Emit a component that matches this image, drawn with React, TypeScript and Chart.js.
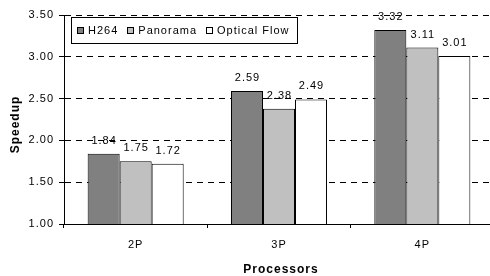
import React, { useEffect, useRef } from 'react';
import { Chart, registerables } from 'chart.js';

Chart.register(...registerables);

const categories = ['2P', '3P', '4P'];
const seriesNames = ['H264', 'Panorama', 'Optical Flow'];
const h264 = [1.84, 2.59, 3.32];
const panorama = [1.75, 2.38, 3.11];
const opticalFlow = [1.72, 2.49, 3.01];
const yTicks = [1.0, 1.5, 2.0, 2.5, 3.0, 3.5];
const seriesColors = ['#808080', '#c0c0c0', '#ffffff'];
const xTitle = 'Processors';
const yTitle = 'Speedup';

const FAMILY = "'Liberation Sans', Arial, Helvetica, sans-serif";

const decorPlugin = {
  id: 'decor',
  beforeDraw(chart: any) {
    chart.ctx.letterSpacing = '1px';
  },
  afterDatasetsDraw(chart: any) {
    const ctx = chart.ctx as CanvasRenderingContext2D;
    ctx.save();
    (ctx as any).letterSpacing = '1px';
    ctx.font = `11px ${FAMILY}`;
    ctx.fillStyle = '#000';
    ctx.textAlign = 'center';
    ctx.textBaseline = 'alphabetic';
    chart.data.datasets.forEach((ds: any, i: number) => {
      const meta = chart.getDatasetMeta(i);
      meta.data.forEach((bar: any, j: number) => {
        const v = ds.data[j] as number;
        ctx.fillText(v.toFixed(2), bar.x + 0.5, bar.y - 10);
      });
    });
    ctx.restore();
  },
  afterDraw(chart: any) {
    const ctx = chart.ctx as CanvasRenderingContext2D;
    const area = chart.chartArea;
    ctx.save();
    (ctx as any).letterSpacing = '1px';
    // Legend
    ctx.font = `11px ${FAMILY}`;
    const boxLeft = area.left + 7;
    const boxTop = area.top + 2;
    const boxH = 26;
    let x = boxLeft + 6;
    const items: { mx: number; tx: number; label: string; color: string }[] = [];
    chart.data.datasets.forEach((ds: any) => {
      const mx = x;
      const tx = mx + 11;
      const w = ctx.measureText(ds.label).width;
      items.push({ mx, tx, label: ds.label, color: ds.backgroundColor });
      x = tx + w + 9;
    });
    const boxRight = x - 2;
    ctx.fillStyle = '#fff';
    ctx.fillRect(boxLeft, boxTop, boxRight - boxLeft, boxH);
    ctx.strokeStyle = '#000';
    ctx.lineWidth = 1;
    ctx.strokeRect(Math.round(boxLeft) + 0.5, Math.round(boxTop) + 0.5, Math.round(boxRight - boxLeft), boxH);
    items.forEach((it) => {
      const my = boxTop + 10;
      ctx.fillStyle = it.color;
      ctx.fillRect(Math.round(it.mx) + 0.5, my + 0.5, 6, 6);
      ctx.strokeStyle = '#000';
      ctx.strokeRect(Math.round(it.mx) + 0.5, my + 0.5, 6, 6);
      ctx.fillStyle = '#000';
      ctx.textAlign = 'left';
      ctx.textBaseline = 'alphabetic';
      ctx.fillText(it.label, it.tx, boxTop + 17);
    });
    // Axis titles
    ctx.font = `bold 12px ${FAMILY}`;
    ctx.fillStyle = '#000';
    ctx.textAlign = 'center';
    ctx.textBaseline = 'alphabetic';
    ctx.fillText(xTitle, (area.left + area.right) / 2 + 2, 272.5);
    ctx.translate(18.5, (area.top + area.bottom) / 2 + 5);
    ctx.rotate(-Math.PI / 2);
    ctx.fillText(yTitle, 0, 0);
    ctx.restore();
  },
};

export default function App() {
  const ref = useRef<HTMLCanvasElement>(null);
  useEffect(() => {
    const series = [h264, panorama, opticalFlow];
    const chart = new Chart(ref.current!, {
      type: 'bar',
      data: {
        labels: categories,
        datasets: series.map((data, i) => ({
          label: seriesNames[i],
          data,
          backgroundColor: seriesColors[i],
          borderColor: '#000',
          borderWidth: 1,
          categoryPercentage: 0.67,
          barPercentage: 1,
        })),
      },
      options: {
        responsive: false,
        animation: false,
        layout: { padding: { top: 15, right: 2, left: 0, bottom: 0 } },
        plugins: {
          legend: { display: false },
          tooltip: { enabled: false },
        },
        scales: {
          x: {
            offset: true,
            grid: {
              display: true,
              drawOnChartArea: false,
              drawTicks: true,
              tickLength: 4,
              color: '#000',
              offset: true,
            },
            border: { display: true, color: '#000', width: 1 },
            ticks: { color: '#000', font: { family: FAMILY, size: 11 }, padding: 10 },
            afterFit: (s: any) => {
              s.height = 52;
            },
          },
          y: {
            min: 1,
            max: 3.5,
            afterBuildTicks: (s: any) => {
              s.ticks = yTicks.map((value) => ({ value }));
            },
            grid: {
              color: '#000',
              lineWidth: 1,
              drawTicks: true,
              tickLength: 5,
              tickBorderDash: [],
            },
            border: { display: true, color: '#000', width: 1, dash: [6, 5] },
            ticks: {
              color: '#000',
              font: { family: FAMILY, size: 11 },
              padding: 5,
              callback: (v: any) => Number(v).toFixed(2),
            },
            afterFit: (s: any) => {
              s.width = 64;
            },
          },
        },
      },
      plugins: [decorPlugin],
    });
    return () => chart.destroy();
  }, []);
  return (
    <div
      style={{
        position: 'fixed',
        left: 0,
        top: 0,
        width: 490,
        height: 276,
        overflow: 'hidden',
        background: '#fff',
      }}
    >
      <canvas ref={ref} width={496} height={276} style={{ display: 'block' }} />
    </div>
  );
}
